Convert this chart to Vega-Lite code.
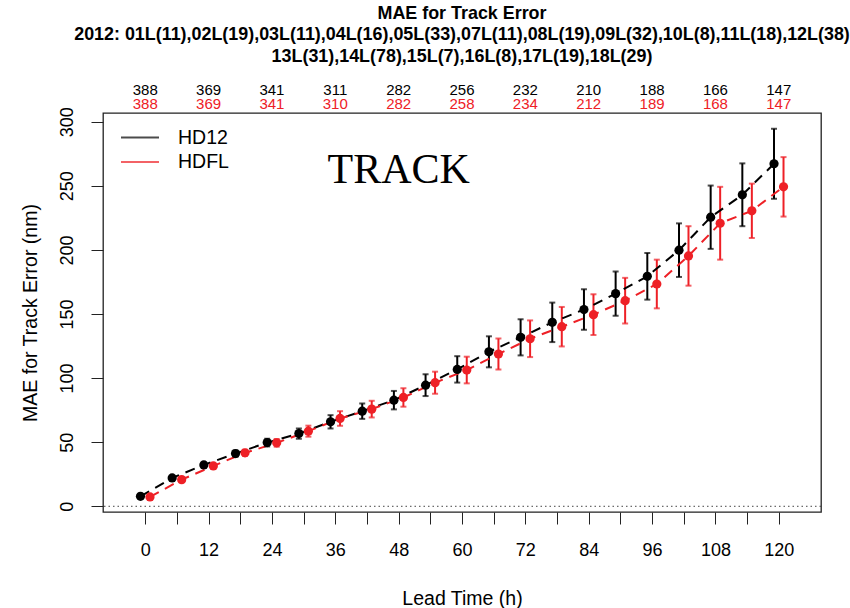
{
  "$schema": "https://vega.github.io/schema/vega-lite/v6.json",
  "autosize": "none",
  "width": 718,
  "height": 399,
  "padding": {"left": 103, "top": 113, "right": 29, "bottom": 96},
  "background": "white",
  "config": {
    "view": {"stroke": "#222", "strokeWidth": 1.3},
    "font": "Liberation Sans",
    "axis": {"labelFont": "Liberation Sans", "titleFont": "Liberation Sans", "labelColor": "#000", "titleColor": "#000", "tickColor": "#222", "domain": false, "grid": false, "titleFontWeight": "normal"}
  },
  "title": {
    "text": ["MAE for Track Error", "2012: 01L(11),02L(19),03L(11),04L(16),05L(33),07L(11),08L(19),09L(32),10L(8),11L(18),12L(38)", "13L(31),14L(78),15L(7),16L(8),17L(19),18L(29)"],
    "anchor": "middle",
    "fontSize": 17.9,
    "fontWeight": "bold",
    "font": "Liberation Sans",
    "lineHeight": 21.5,
    "offset": 18,
    "color": "#000"
  },
  "datasets": {
    "mae": [
      {"model": "HD12", "lead": -0.9, "mae": 7.8, "lo": 7.2, "hi": 8.4},
      {"model": "HD12", "lead": 5.1, "mae": 22.1, "lo": 20.9, "hi": 23.3},
      {"model": "HD12", "lead": 11.1, "mae": 32.3, "lo": 30.5, "hi": 34.1},
      {"model": "HD12", "lead": 17.1, "mae": 41.1, "lo": 38.7, "hi": 43.5},
      {"model": "HD12", "lead": 23.1, "mae": 49.7, "lo": 46.7, "hi": 52.7},
      {"model": "HD12", "lead": 29.1, "mae": 56.7, "lo": 52.7, "hi": 60.7},
      {"model": "HD12", "lead": 35.1, "mae": 65.9, "lo": 60.7, "hi": 71.1},
      {"model": "HD12", "lead": 41.1, "mae": 74.2, "lo": 68.2, "hi": 80.2},
      {"model": "HD12", "lead": 47.1, "mae": 82.8, "lo": 75.6, "hi": 90.0},
      {"model": "HD12", "lead": 53.1, "mae": 94.5, "lo": 86.0, "hi": 103.0},
      {"model": "HD12", "lead": 59.1, "mae": 106.8, "lo": 96.5, "hi": 117.1},
      {"model": "HD12", "lead": 65.1, "mae": 120.5, "lo": 108.4, "hi": 132.6},
      {"model": "HD12", "lead": 71.1, "mae": 131.8, "lo": 117.7, "hi": 145.9},
      {"model": "HD12", "lead": 77.1, "mae": 143.5, "lo": 128.1, "hi": 158.9},
      {"model": "HD12", "lead": 83.1, "mae": 153.5, "lo": 137.7, "hi": 169.3},
      {"model": "HD12", "lead": 89.1, "mae": 165.9, "lo": 148.7, "hi": 183.1},
      {"model": "HD12", "lead": 95.1, "mae": 179.4, "lo": 161.2, "hi": 197.6},
      {"model": "HD12", "lead": 101.1, "mae": 199.8, "lo": 178.9, "hi": 220.7},
      {"model": "HD12", "lead": 107.1, "mae": 225.5, "lo": 200.8, "hi": 250.2},
      {"model": "HD12", "lead": 113.1, "mae": 243.0, "lo": 218.5, "hi": 267.5},
      {"model": "HD12", "lead": 119.1, "mae": 267.2, "lo": 239.9, "hi": 294.5},
      {"model": "HDFL", "lead": 0.9, "mae": 7.3, "lo": 6.7, "hi": 7.9},
      {"model": "HDFL", "lead": 6.9, "mae": 20.8, "lo": 19.6, "hi": 22.0},
      {"model": "HDFL", "lead": 12.9, "mae": 31.5, "lo": 29.7, "hi": 33.3},
      {"model": "HDFL", "lead": 18.9, "mae": 41.7, "lo": 39.3, "hi": 44.1},
      {"model": "HDFL", "lead": 24.9, "mae": 49.5, "lo": 46.5, "hi": 52.5},
      {"model": "HDFL", "lead": 30.9, "mae": 58.6, "lo": 54.3, "hi": 62.9},
      {"model": "HDFL", "lead": 36.9, "mae": 68.5, "lo": 62.8, "hi": 74.2},
      {"model": "HDFL", "lead": 42.9, "mae": 75.8, "lo": 69.3, "hi": 82.3},
      {"model": "HDFL", "lead": 48.9, "mae": 84.9, "lo": 77.7, "hi": 92.1},
      {"model": "HDFL", "lead": 54.9, "mae": 96.4, "lo": 87.8, "hi": 105.0},
      {"model": "HDFL", "lead": 60.9, "mae": 106.3, "lo": 95.9, "hi": 116.7},
      {"model": "HDFL", "lead": 66.9, "mae": 118.8, "lo": 106.7, "hi": 130.9},
      {"model": "HDFL", "lead": 72.9, "mae": 130.7, "lo": 116.4, "hi": 145.0},
      {"model": "HDFL", "lead": 78.9, "mae": 140.1, "lo": 124.7, "hi": 155.5},
      {"model": "HDFL", "lead": 84.9, "mae": 149.5, "lo": 133.6, "hi": 165.4},
      {"model": "HDFL", "lead": 90.9, "mae": 160.4, "lo": 142.6, "hi": 178.2},
      {"model": "HDFL", "lead": 96.9, "mae": 173.4, "lo": 154.4, "hi": 192.4},
      {"model": "HDFL", "lead": 102.9, "mae": 195.3, "lo": 172.1, "hi": 218.5},
      {"model": "HDFL", "lead": 108.9, "mae": 220.8, "lo": 192.4, "hi": 249.2},
      {"model": "HDFL", "lead": 114.9, "mae": 230.5, "lo": 209.3, "hi": 251.7},
      {"model": "HDFL", "lead": 120.9, "mae": 249.2, "lo": 226.0, "hi": 272.4}
    ],
    "counts": [
      {"model": "HD12", "t": 0, "n": 388}, {"model": "HD12", "t": 12, "n": 369}, {"model": "HD12", "t": 24, "n": 341},
      {"model": "HD12", "t": 36, "n": 311}, {"model": "HD12", "t": 48, "n": 282}, {"model": "HD12", "t": 60, "n": 256},
      {"model": "HD12", "t": 72, "n": 232}, {"model": "HD12", "t": 84, "n": 210}, {"model": "HD12", "t": 96, "n": 188},
      {"model": "HD12", "t": 108, "n": 166}, {"model": "HD12", "t": 120, "n": 147},
      {"model": "HDFL", "t": 0, "n": 388}, {"model": "HDFL", "t": 12, "n": 369}, {"model": "HDFL", "t": 24, "n": 341},
      {"model": "HDFL", "t": 36, "n": 310}, {"model": "HDFL", "t": 48, "n": 282}, {"model": "HDFL", "t": 60, "n": 258},
      {"model": "HDFL", "t": 72, "n": 234}, {"model": "HDFL", "t": 84, "n": 212}, {"model": "HDFL", "t": 96, "n": 189},
      {"model": "HDFL", "t": 108, "n": 168}, {"model": "HDFL", "t": 120, "n": 147}
    ]
  },
  "encoding": {
    "x": {
      "field": "lead", "type": "quantitative",
      "title": "Lead Time (h)",
      "scale": {"domain": [-8, 128], "nice": false, "zero": false},
      "axis": {
        "values": [0, 6, 12, 18, 24, 30, 36, 42, 48, 54, 60, 66, 72, 78, 84, 90, 96, 102, 108, 114, 120],
        "labelExpr": "datum.value % 12 === 0 ? datum.label : ''",
        "tickSize": 12,
        "labelPadding": 17,
        "labelFontSize": 18,
        "titleFontSize": 19.5,
        "titlePadding": 30,
        "labelFlush": false,
        "labelOverlap": false
      }
    }
  },
  "layer": [
    {
      "data": {"name": "mae"},
      "mark": {"type": "rule", "strokeWidth": 2},
      "encoding": {
        "y": {
          "field": "lo", "type": "quantitative",
          "title": "MAE for Track Error (nm)",
          "scale": {"domain": [-4.45, 306.8], "nice": false, "zero": false},
          "axis": {
            "values": [0, 50, 100, 150, 200, 250, 300],
            "tickSize": 12,
            "labelAngle": 270,
            "labelAlign": "center",
            "labelBaseline": "bottom",
            "labelPadding": 15,
            "labelFontSize": 18,
            "titleFontSize": 19.5,
            "titlePadding": 18,
            "labelFlush": false,
            "labelOverlap": false
          }
        },
        "y2": {"field": "hi"},
        "color": {
          "field": "model", "type": "nominal",
          "scale": {"domain": ["HD12", "HDFL"], "range": ["#000000", "#EE2026"]},
          "legend": {
            "title": null,
            "orient": "none",
            "legendX": 26.5,
            "legendY": 14,
            "symbolType": "M-2,0H2",
            "symbolSize": 361,
            "symbolStrokeWidth": 2,
            "labelFontSize": 19.5,
            "labelFont": "Liberation Sans",
            "labelColor": "#000",
            "labelOffset": 27.5,
            "rowPadding": 4.5,
            "padding": 0
          }
        }
      }
    },
    {
      "data": {"name": "mae"},
      "mark": {"type": "line", "strokeWidth": 2, "strokeDash": [10, 7]},
      "encoding": {
        "y": {"field": "mae", "type": "quantitative", "title": "MAE for Track Error (nm)"},
        "color": {"field": "model", "type": "nominal"}
      }
    },
    {
      "data": {"name": "mae"},
      "mark": {"type": "tick", "orient": "horizontal", "size": 6, "thickness": 2},
      "encoding": {
        "y": {"field": "lo", "type": "quantitative", "title": "MAE for Track Error (nm)"},
        "color": {"field": "model", "type": "nominal"}
      }
    },
    {
      "data": {"name": "mae"},
      "mark": {"type": "tick", "orient": "horizontal", "size": 6, "thickness": 2},
      "encoding": {
        "y": {"field": "hi", "type": "quantitative", "title": "MAE for Track Error (nm)"},
        "color": {"field": "model", "type": "nominal"}
      }
    },
    {
      "data": {"name": "mae"},
      "mark": {"type": "point", "filled": true, "size": 85, "opacity": 1},
      "encoding": {
        "y": {"field": "mae", "type": "quantitative", "title": "MAE for Track Error (nm)"},
        "color": {"field": "model", "type": "nominal"}
      }
    },
    {
      "data": {"values": [{"z": 0}]},
      "mark": {"type": "rule", "strokeDash": [1.5, 3], "strokeWidth": 1, "color": "#444"},
      "encoding": {"y": {"field": "z", "type": "quantitative", "title": "MAE for Track Error (nm)"}, "x": null}
    },
    {
      "data": {"name": "counts"},
      "transform": [{"filter": "datum.model === 'HD12'"}],
      "mark": {"type": "text", "fontSize": 15, "font": "Liberation Sans", "color": "#000", "baseline": "middle", "align": "center"},
      "encoding": {
        "x": {"field": "t", "type": "quantitative", "title": "Lead Time (h)"},
        "y": {"datum": 324.4, "type": "quantitative", "title": "MAE for Track Error (nm)"},
        "text": {"field": "n", "type": "nominal"}
      }
    },
    {
      "data": {"name": "counts"},
      "transform": [{"filter": "datum.model === 'HDFL'"}],
      "mark": {"type": "text", "fontSize": 15, "font": "Liberation Sans", "color": "#EE2026", "baseline": "middle", "align": "center"},
      "encoding": {
        "x": {"field": "t", "type": "quantitative", "title": "Lead Time (h)"},
        "y": {"datum": 314.0, "type": "quantitative", "title": "MAE for Track Error (nm)"},
        "text": {"field": "n", "type": "nominal"}
      }
    },
    {
      "data": {"values": [{"label": "TRACK", "t": 48}]},
      "mark": {"type": "text", "fontSize": 42, "font": "Liberation Serif", "color": "#000", "baseline": "alphabetic", "align": "center"},
      "encoding": {
        "x": {"field": "t", "type": "quantitative", "title": "Lead Time (h)"},
        "y": {"datum": 252.3, "type": "quantitative", "title": "MAE for Track Error (nm)"},
        "text": {"field": "label"}
      }
    }
  ]
}
